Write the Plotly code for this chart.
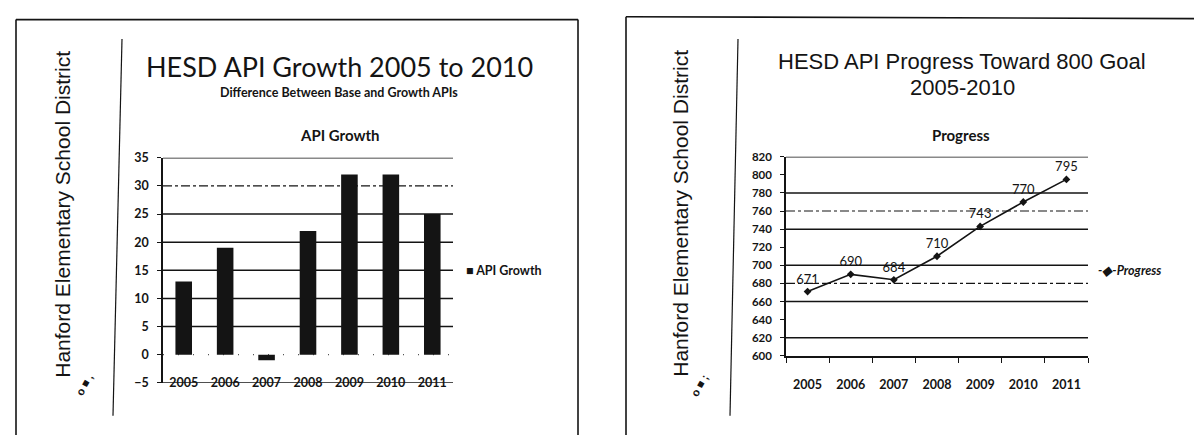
import plotly.graph_objects as go

# ---------------- data ----------------
years = ["2005", "2006", "2007", "2008", "2009", "2010", "2011"]
api_growth = [13, 19, -1, 22, 32, 32, 25]
progress = [671, 690, 684, 710, 743, 770, 795]

growth_ticks = [-5, 0, 5, 10, 15, 20, 25, 30, 35]
growth_grid_solid = [5, 10, 15, 20, 25, 35]
growth_grid_dashed = [30]
growth_grid_dotted = [0]

progress_ticks = [600, 620, 640, 660, 680, 700, 720, 740, 760, 780, 800, 820]
progress_grid_solid = [620, 660, 700, 740, 780, 820]
progress_grid_dashed = [680, 760]

district = "Hanford Elementary School District"
title_left = "HESD API Growth 2005 to 2010"
subtitle_left = "Difference Between Base and Growth APIs"
chart_left = "API Growth"
title_right_1 = "HESD API Progress Toward 800 Goal"
title_right_2 = "2005-2010"
chart_right = "Progress"

# ---------------- layout helpers ----------------
W, H = 1194, 442
def px(x):
    return x / W
def py(y):
    return 1 - y / H

INK = "#141414"
CAL = "Lato"
ARIAL = "Liberation Sans"

fig = go.Figure()

fig.add_trace(go.Bar(
    x=years, y=api_growth, name=chart_left, width=0.4,
    marker=dict(color=INK, line=dict(width=0)),
    xaxis="x", yaxis="y", showlegend=False,
))

fig.add_trace(go.Scatter(
    x=years, y=progress, name=chart_right, mode="lines+markers+text",
    text=[str(v) for v in progress], textposition="top center",
    textfont=dict(family=CAL, size=13, color=INK),
    line=dict(color=INK, width=1.6),
    marker=dict(symbol="diamond", size=6, color=INK),
    xaxis="x2", yaxis="y2", showlegend=False, cliponaxis=False,
))

tickfont = dict(family=CAL, size=12.5, color=INK, weight="bold")

fig.update_layout(
    width=W, height=H,
    margin=dict(l=0, r=0, t=0, b=0),
    paper_bgcolor="white", plot_bgcolor="white",
    showlegend=False,
    xaxis=dict(
        domain=[px(163), px(453)], anchor="free", position=py(378), type="category",
        categoryorder="array", categoryarray=years, range=[-0.5, 6.5],
        showline=False, showgrid=False, ticks="", ticklabelstandoff=0,
        tickfont=tickfont, zeroline=False,
    ),
    yaxis=dict(
        domain=[py(388), py(155)], anchor="x", range=[-5, 35],
        tickvals=growth_ticks, showgrid=False, zeroline=False,
        showline=True, linecolor=INK, linewidth=1.5,
        ticks="outside", ticklen=4, tickcolor=INK, tickwidth=1.3,
        ticklabelstandoff=6, tickfont=tickfont,
    ),
    xaxis2=dict(
        domain=[px(786), px(1088)], anchor="y2", type="category",
        categoryorder="array", categoryarray=years, range=[-0.5, 6.5],
        showline=True, linecolor=INK, linewidth=1.5, showgrid=False,
        ticks="outside", tickson="boundaries", ticklen=5, tickcolor=INK,
        tickwidth=1.3, ticklabelstandoff=16, tickfont=tickfont, zeroline=False,
    ),
    yaxis2=dict(
        domain=[py(360), py(154)], anchor="x2", range=[600, 820],
        tickvals=progress_ticks, showgrid=False, zeroline=False,
        showline=True, linecolor=INK, linewidth=1.5,
        ticks="outside", ticklen=4, tickcolor=INK, tickwidth=1.3,
        ticklabelstandoff=6, tickfont=dict(family=CAL, size=11.5, color=INK, weight="bold"),
    ),
)

# gridlines (through the axes' scales)
for v in growth_grid_solid + [-5]:
    fig.add_hline(y=v, line=dict(color=INK, width=1.5), layer="below", xref="x", yref="y")
for v in growth_grid_dashed:
    fig.add_hline(y=v, line=dict(color=INK, width=1.1, dash="dashdot"), layer="below", xref="x", yref="y")
for v in growth_grid_dotted:
    fig.add_hline(y=v, line=dict(color="#555", width=1.2, dash="1px,14px"), layer="below", xref="x", yref="y")
for v in progress_grid_solid:
    fig.add_hline(y=v, line=dict(color=INK, width=1.5), layer="below", xref="x2", yref="y2")
for v in progress_grid_dashed:
    fig.add_hline(y=v, line=dict(color=INK, width=1.1, dash="dashdot"), layer="below", xref="x2", yref="y2")

# label for the negative bar
for yr, v in zip(years, api_growth):
    if v < 0:
        fig.add_annotation(x=yr, y=0, xref="x", yref="y", text=f"<b>{v}</b>",
                           showarrow=False, yanchor="bottom", yshift=3,
                           font=dict(family=CAL, size=12.5, color=INK))

# ---------------- frames (scanned slide borders) ----------------
frame = dict(color=INK, width=1.6)
thin = dict(color=INK, width=1.2)
shapes = [
    dict(type="line", xref="paper", yref="paper", x0=px(16), y0=py(12), x1=px(578), y1=py(12), line=frame),
    dict(type="line", xref="paper", yref="paper", x0=px(16), y0=py(12), x1=px(16), y1=py(442), line=frame),
    dict(type="line", xref="paper", yref="paper", x0=px(578), y0=py(12), x1=px(578), y1=py(442), line=frame),
    dict(type="line", xref="paper", yref="paper", x0=px(122), y0=py(32), x1=px(113), y1=py(422), line=thin),
    dict(type="line", xref="paper", yref="paper", x0=px(626), y0=py(9), x1=px(1194), y1=py(11), line=frame),
    dict(type="line", xref="paper", yref="paper", x0=px(626), y0=py(9), x1=px(626), y1=py(442), line=frame),
    dict(type="line", xref="paper", yref="paper", x0=px(738), y0=py(32), x1=px(730), y1=py(422), line=thin),
]
for s in shapes:
    fig.add_shape(**s)

def txt(x, y, text, size, family, weight="normal", angle=0, anchor="center", style="normal"):
    fig.add_annotation(x=px(x), y=py(y), xref="paper", yref="paper", text=text,
                       showarrow=False, xanchor=anchor, yanchor="middle", textangle=angle,
                       font=dict(family=family, size=size, color=INK, weight=weight, style=style))

# left slide texts
txt(63, 214, district, 21, ARIAL, angle=-90)
txt(339, 61, title_left, 27, CAL)
txt(339, 87, subtitle_left, 12.5, CAL, weight="bold")
txt(340, 131, chart_left, 15, CAL, weight="bold")
txt(464, 272, "■ " + chart_left, 12.5, CAL, weight="bold", anchor="left")
txt(84, 390, "o ■ ,", 11, ARIAL, weight="bold", angle=-60)

# right slide texts
txt(681, 213, district, 21, ARIAL, angle=-90)
txt(962, 55, title_right_1, 22, ARIAL)
txt(962, 82, title_right_2, 22, ARIAL)
txt(961, 131, chart_right, 15, CAL, weight="bold")
txt(1096, 272, "-◆-" + chart_right, 12.5, CAL, weight="bold", anchor="left", style="italic")
txt(699, 391, "o ■ ;", 11, ARIAL, weight="bold", angle=-60)

fig.write_html("out.html")
